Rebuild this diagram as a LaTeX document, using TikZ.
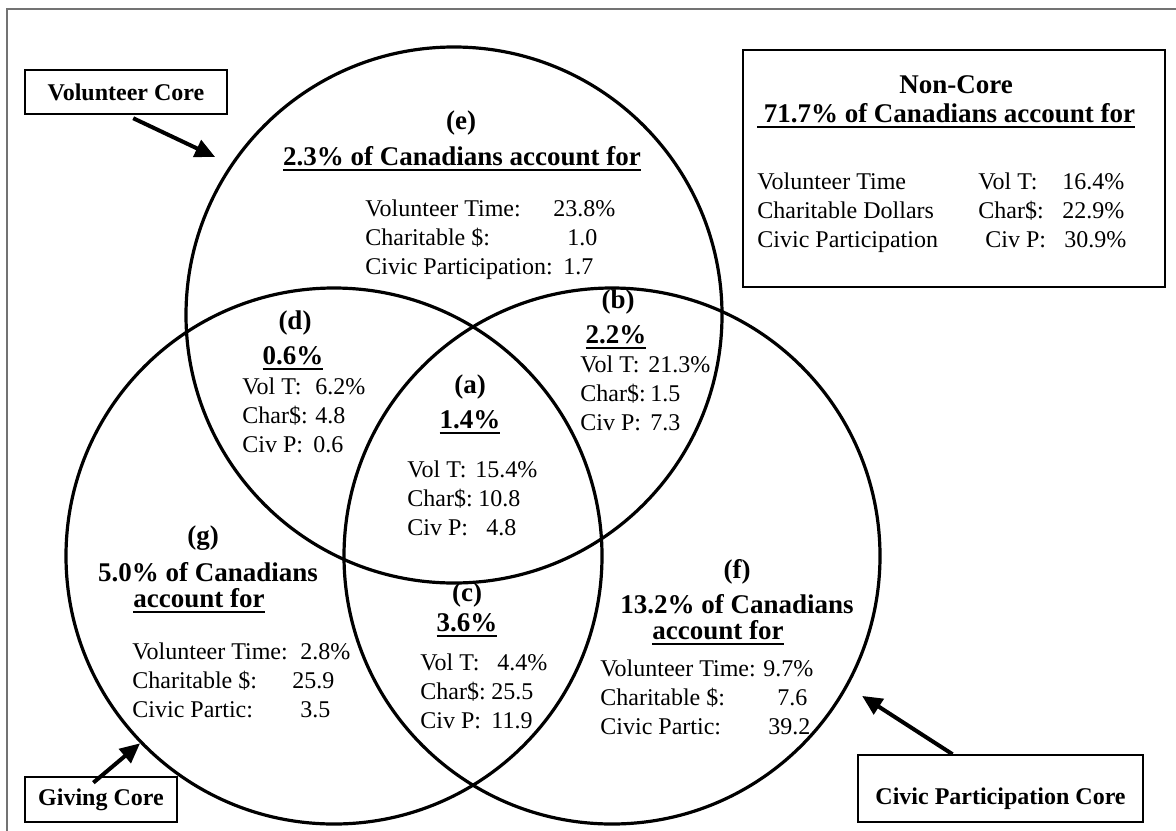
\documentclass[tikz,border=0pt]{standalone}
\usepackage{fontspec}
\setmainfont{Liberation Serif}
\usetikzlibrary{arrows.meta,calc}

% thick rule under bold shares
\newsavebox{\ulbox}
\newcommand{\thickul}[1]{\sbox{\ulbox}{#1}\rlap{\rule[-3.2pt]{\wd\ulbox}{1.3pt}}\usebox{\ulbox}}
% label padded to a fixed width, then its value
\newcommand{\statline}[3]{\makebox[#1][l]{#2}#3}

\begin{document}
\begin{tikzpicture}[
    x=0.5pt, y=-0.5pt,
    >={Triangle[length=10pt,width=9pt]},
    ring/.style={
        circle,
        draw,
        line width=1.6pt,
        minimum size=268pt,
        inner sep=0pt
    },
    corebox/.style={
        draw,
        line width=0.8pt,
        inner sep=0pt,
        font=\bfseries\fontsize{12}{14}\selectfont
    },
    corearrow/.style={
        ->,
        line width=2pt
    },
    regtitle/.style={
        anchor=base,
        inner sep=0pt,
        font=\bfseries\fontsize{13.5}{16}\selectfont
    },
    % stat blocks sit on the baseline of their last row
    stats/.style={
        anchor=base west,
        inner sep=0pt,
        align=left,
        font=\fontsize{12}{14.5}\selectfont
    }
]

\useasboundingbox (0,0) rectangle (1176,830);
\draw[draw=black!55, line width=1pt] (7,9) rectangle (1185,840);

% the three cores
\node[ring] (volc) at (454,315) {};
\node[ring] (givc) at (334,556) {};
\node[ring] (civc) at (612,556) {};

% core labels and their arrows
\node[corebox, minimum width=101pt, minimum height=22pt] (volbox) at (126,92) {Volunteer Core};
\node[corebox, minimum width=76pt, minimum height=22.5pt] (givbox) at (101,799.5) {Giving Core};
\node[corebox, minimum width=142.5pt, minimum height=33.5pt,
      text height=16pt, text depth=0pt] (civbox) at (1000.5,788.5) {Civic Participation Core};

\draw[corearrow, shorten <=4pt, shorten >=8.5pt] (volbox.south) -- (volc.146);
\draw[corearrow, shorten <=-5pt] (givbox.north) -- (givc.224);
\draw[corearrow, shorten >=8.5pt] ([xshift=-24pt]civbox.north) -- (civc.331);

% non-core summary
\node[draw, line width=0.8pt, minimum width=211pt, minimum height=118.5pt, inner sep=0pt] (noncore) at (954,168.5) {};
\node[regtitle] (nctitle) at (956,93) {Non-Core};
\node[regtitle] (ncshare) at (946,122) {\thickul{\ 71.7\% of Canadians account for}};
\node[stats] (ncstats) at (757,247) {%
    \statline{110.5pt}{Volunteer Time}{\statline{42pt}{Vol T:}{16.4\%}}\\
    \statline{110.5pt}{Charitable Dollars}{\statline{42pt}{Char\$:}{22.9\%}}\\
    \statline{114pt}{Civic Participation}{\statline{39.5pt}{Civ P:}{30.9\%}}};

% (e) volunteer only
\node[regtitle] (etag) at (461,129) {(e)};
\node[regtitle] (eshare) at (462,165) {\thickul{2.3\% of Canadians account for}};
\node[stats] (estats) at (365,274) {%
    \statline{94pt}{Volunteer Time:}{23.8\%}\\
    \statline{101pt}{Charitable \$:}{1.0}\\
    \statline{99pt}{Civic Participation:}{1.7}};

% (d) volunteer + giving
\node[regtitle] (dtag) at (295,329) {(d)};
\node[regtitle] (dshare) at (293,364) {\thickul{0.6\%}};
\node[stats] (dstats) at (242,452) {%
    \statline{36.5pt}{Vol T:}{6.2\%}\\
    \statline{36.5pt}{Char\$:}{4.8}\\
    \statline{35.5pt}{Civ P:}{0.6}};

% (a) all three
\node[regtitle] (atag) at (470,393) {(a)};
\node[regtitle] (ashare) at (470,428) {\thickul{1.4\%}};
\node[stats] (astats) at (407,535) {%
    \statline{34pt}{Vol T:}{15.4\%}\\
    \statline{35.5pt}{Char\$:}{10.8}\\
    \statline{39.5pt}{Civ P:}{4.8}};

% (b) volunteer + civic
\node[regtitle] (btag) at (618,308) {(b)};
\node[regtitle] (bshare) at (616,343) {\thickul{2.2\%}};
\node[stats] (bstats) at (580,430) {%
    \statline{34pt}{Vol T:}{21.3\%}\\
    \statline{35pt}{Char\$:}{1.5}\\
    \statline{35pt}{Civ P:}{7.3}};

% (c) giving + civic
\node[regtitle] (ctag) at (467,601) {(c)};
\node[regtitle] (cshare) at (467,631) {\thickul{3.6\%}};
\node[stats] (cstats) at (420,728) {%
    \statline{38.5pt}{Vol T:}{4.4\%}\\
    \statline{35.5pt}{Char\$:}{25.5}\\
    \statline{35.5pt}{Civ P:}{11.9}};

% (g) giving only
\node[regtitle] (gtag) at (203,544) {(g)};
\node[regtitle] (gshare) at (208,581) {5.0\% of Canadians};
\node[regtitle] (gacct) at (199,607) {\thickul{account for}};
\node[stats] (gstats) at (132,717) {%
    \statline{84pt}{Volunteer Time:}{2.8\%}\\
    \statline{80pt}{Charitable \$:}{25.9}\\
    \statline{84pt}{Civic Partic:}{3.5}};

% (f) civic only
\node[regtitle] (ftag) at (737,578) {(f)};
\node[regtitle] (fshare) at (737,613) {13.2\% of Canadians};
\node[regtitle] (facct) at (718,639) {\thickul{account for}};
\node[stats] (fstats) at (600,734) {%
    \statline{81.5pt}{Volunteer Time:}{9.7\%}\\
    \statline{88.5pt}{Charitable \$:}{7.6}\\
    \statline{84pt}{Civic Partic:}{39.2}};

\end{tikzpicture}
\end{document}
